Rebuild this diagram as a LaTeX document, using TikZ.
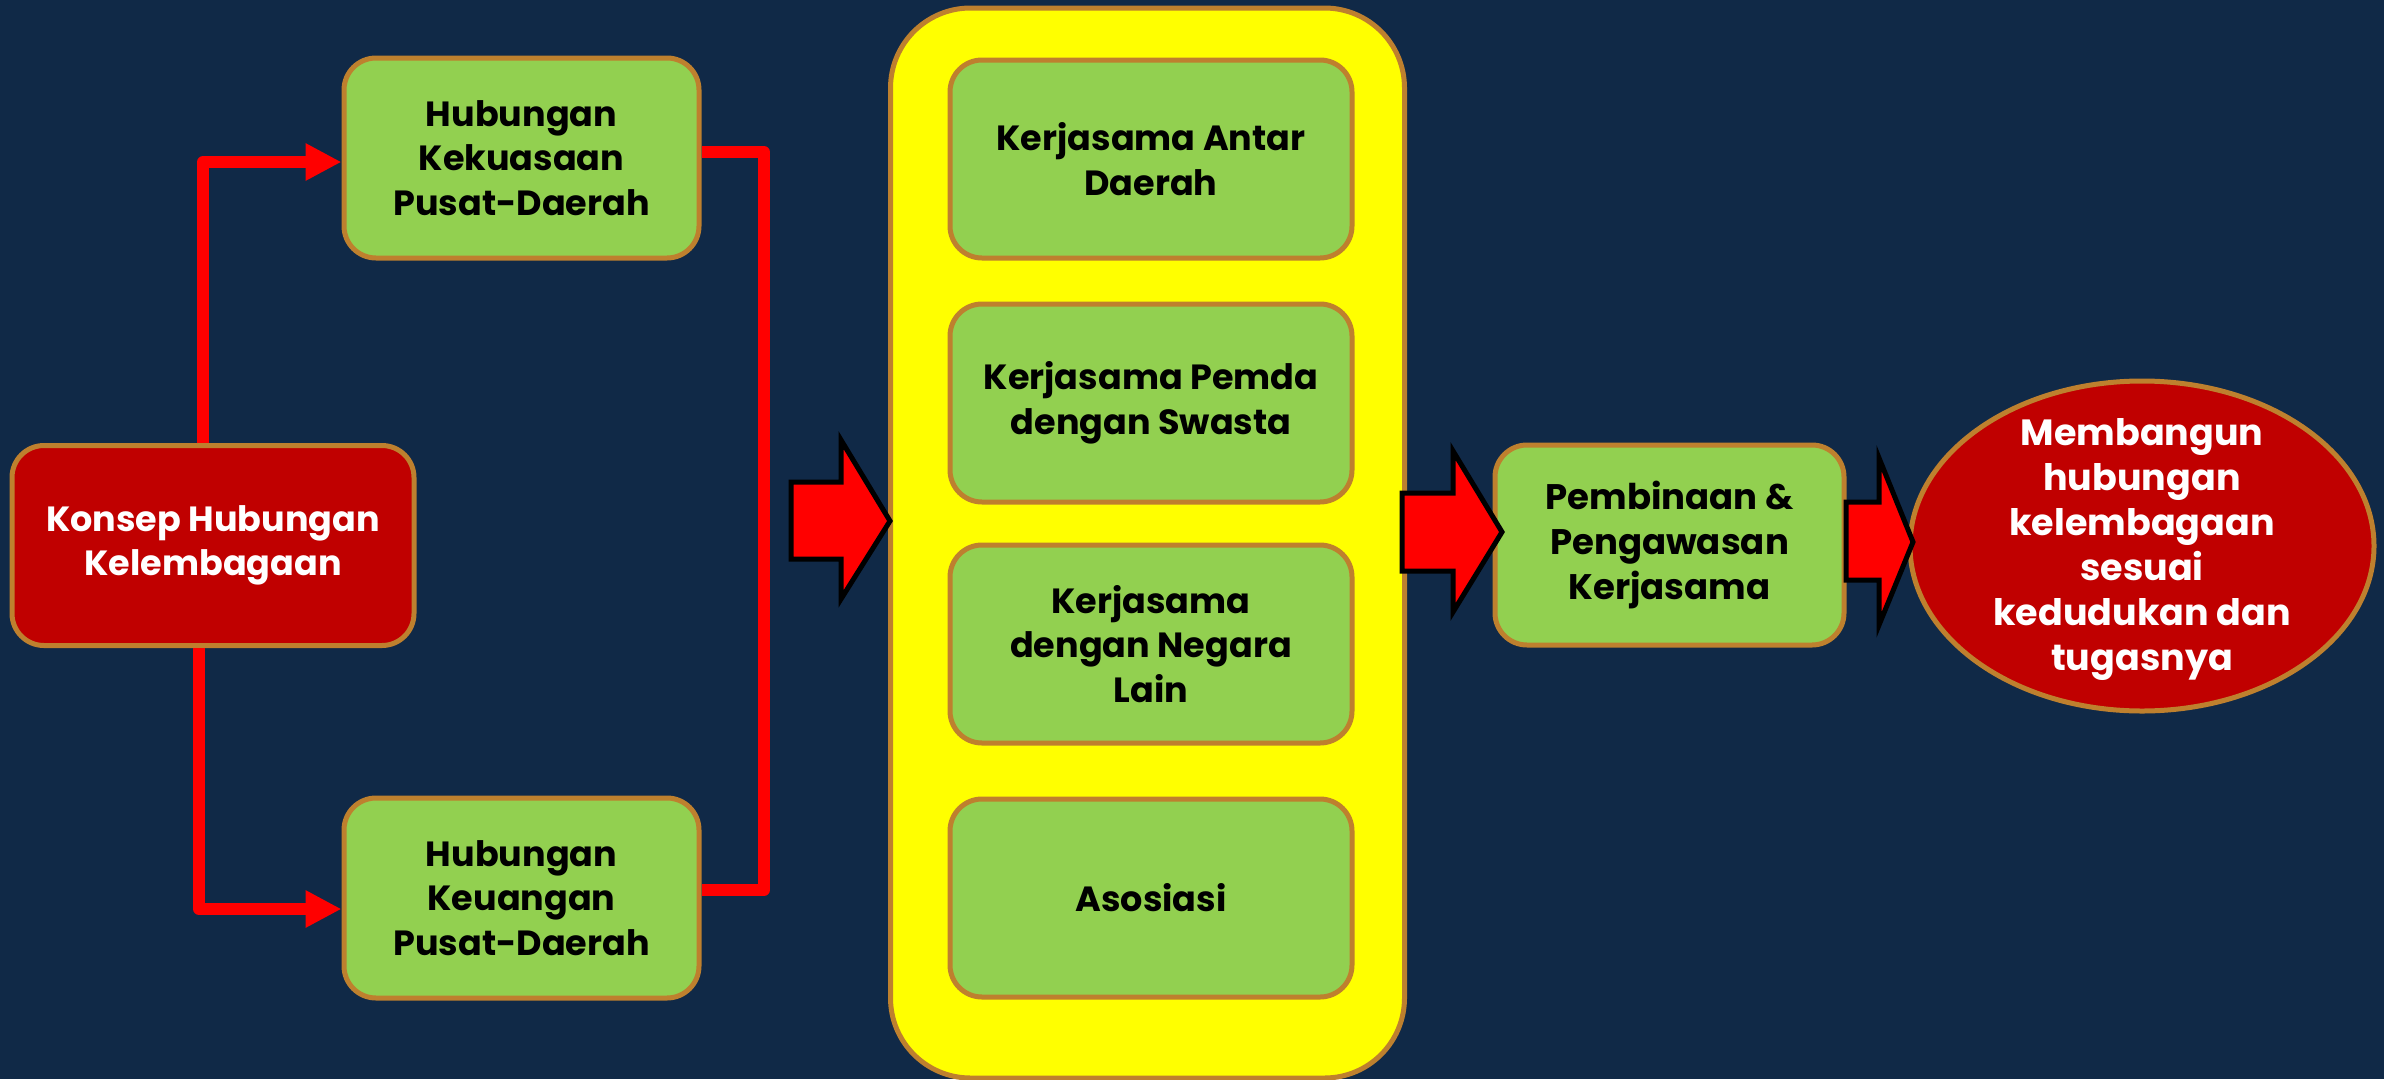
\documentclass[tikz,border=0pt]{standalone}
\usepackage{fontspec}
\setmainfont{Poppins}
\usetikzlibrary{arrows.meta,shapes.geometric,calc}
\definecolor{bgnavy}{RGB}{16,41,71}
\definecolor{boxgreen}{RGB}{146,208,80}
\definecolor{edgebrown}{RGB}{190,128,46}
\definecolor{darkred}{RGB}{192,0,0}
\definecolor{brightred}{RGB}{255,0,0}
\definecolor{brightyellow}{RGB}{255,255,0}
\tikzset{
  basebox/.style={rectangle, rounded corners=32pt, draw=edgebrown, line width=5pt,
    align=center, inner sep=0pt, font=\bfseries\fontsize{35}{44.5}\selectfont},
  gbox/.style={basebox, fill=boxgreen, text=black},
  rbox/.style={basebox, fill=darkred, text=white},
  holder/.style={rectangle, rounded corners=80pt, draw=edgebrown, line width=5pt, fill=brightyellow,
    minimum width=514pt, minimum height=1070pt, inner sep=0pt},
  goalnode/.style={ellipse, draw=edgebrown, line width=5pt, fill=darkred,
    minimum width=464pt, minimum height=330pt, inner sep=0pt},
  goaltext/.style={text=white, inner sep=0pt, align=center,
    font=\bfseries\fontsize{36.5}{45}\selectfont},
  redline/.style={draw=brightred, line width=12pt, line join=round},
  conn/.style={redline, -{Triangle[length=36pt,width=35pt]}},
  blockarrow/.style={fill=brightred, draw=black, line width=5pt, line join=miter}
}
\begin{document}
\begin{tikzpicture}[x=1pt,y=-1pt]
\fill[bgnavy] (0,0) rectangle (2384,1079);
\useasboundingbox (0,0) rectangle (2384,1079);

% left part
\node[rbox, minimum width=402pt, minimum height=200pt] (konsep) at (213,545.5) {Konsep Hubungan\\Kelembagaan};
\node[gbox, minimum width=355pt, minimum height=200pt] (kek) at (521.5,158) {Hubungan\\Kekuasaan\\Pusat-Daerah};
\node[gbox, minimum width=355pt, minimum height=200pt] (keu) at (521.5,898) {Hubungan\\Keuangan\\Pusat-Daerah};

\draw[conn] ([xshift=-10pt]konsep.north) |- ([yshift=-4pt]kek.west);
\draw[conn] ([xshift=-14pt]konsep.south) |- ([yshift=-11pt]keu.west);

\coordinate (bt) at (764,152);
\coordinate (bb) at (764,890);
\draw[redline] ([yshift=6pt]kek.east) -- (bt) -- (bb) -- ([yshift=8pt]keu.east);

% container
\node[holder] (cont) at (1147.5,543) {};
\node[gbox, minimum width=402pt, minimum height=198pt] (k1) at (1151,159) {Kerjasama Antar\\Daerah};
\node[gbox, minimum width=402pt, minimum height=198pt] (k2) at (1151,403) {Kerjasama Pemda\\dengan Swasta};
\node[gbox, minimum width=402pt, minimum height=198pt] (k3) at (1151,644) {Kerjasama\\dengan Negara\\Lain};
\node[gbox, minimum width=402pt, minimum height=198pt] (k4) at (1151,898) {Asosiasi};

% right part
\node[gbox, minimum width=349pt, minimum height=200pt, font=\bfseries\fontsize{35.5}{45}\selectfont] (pemb) at (1669.5,545) {Pembinaan \&\\Pengawasan\\Kerjasama};
\node[goalnode] (goal) at (2142,546) {};
\node[goaltext] (goallbl) at ([yshift=-4pt]goal.center) {Membangun\\hubungan\\kelembagaan\\sesuai\\kedudukan dan\\tugasnya};

% block arrows
\draw[blockarrow] (791,482) -- (841,482) -- (841,440) -- (890,521) -- (841,599) -- (841,559) -- (791,559) -- cycle;
\draw[blockarrow] (1402,493) -- (1453,493) -- (1453,451) -- (1502,532) -- (1453,612) -- (1453,571) -- (1402,571) -- cycle;
\draw[blockarrow] (1846,502) -- (1879,502) -- (1879,458) -- (1913,542) -- (1879,625) -- (1879,580) -- (1846,580) -- cycle;
\end{tikzpicture}
\end{document}
